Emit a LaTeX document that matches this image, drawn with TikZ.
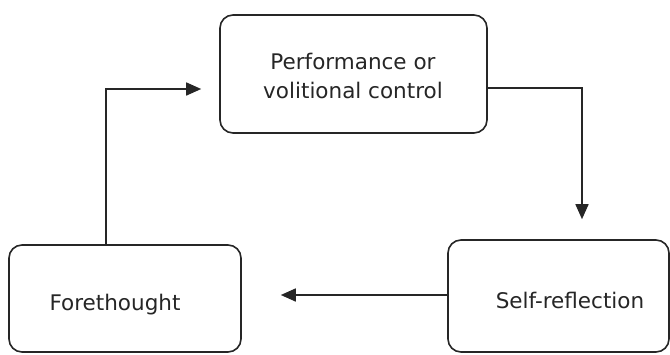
\documentclass[tikz,border=0pt]{standalone}
\usepackage{fontspec}
\setmainfont{DejaVu Sans}
\usetikzlibrary{arrows.meta,calc}
\begin{document}
\begin{tikzpicture}[x=1pt,y=-1pt,
  phase/.style={draw=black!85,line width=1.6pt,rounded corners=13pt,fill=white,inner sep=0pt},
  lbl/.style={font=\fontsize{21.5}{28.5}\selectfont,text=black!85,align=center,inner sep=0pt},
  flow/.style={draw=black!85,line width=1.6pt,-{Triangle[length=15pt,width=13pt]}}]
  \useasboundingbox (0,0) rectangle (670,354);
  % the three phases of the cycle
  \node[phase,minimum width=267pt,minimum height=118pt] (perf) at (353.5,74) {};
  \node[phase,minimum width=232pt,minimum height=107pt] (fore) at (125,298.5) {};
  \node[phase,minimum width=221pt,minimum height=112pt] (self) at (558.5,296) {};
  \node[lbl] (perfT) at (353,76) {Performance or\\volitional control};
  \node[lbl] (foreT) at (115,305) {Forethought};
  \node[lbl] (selfT) at (570,300) {Self-reflection};
  % connectors
  \coordinate (c1) at (106,89);
  \coordinate (c2) at (582,88);
  \draw[flow,shorten >=18pt] (fore.north -| c1) -- (c1) -- (perf.west |- c1);
  \draw[flow,shorten >=20pt] (perf.east |- c2) -- (c2) -- (self.north -| c2);
  \draw[flow,shorten >=39pt] (self.west |- 0,295) -- (fore.east |- 0,295);
\end{tikzpicture}
\end{document}
